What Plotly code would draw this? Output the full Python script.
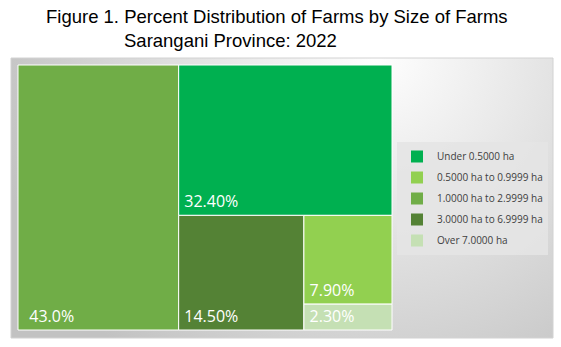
import base64
import plotly.graph_objects as go

W, H = 561, 347

# ---- data ----
categories = ["Under 0.5000 ha", "0.5000 ha to 0.9999 ha", "1.0000 ha to 2.9999 ha",
              "3.0000 ha to 6.9999 ha", "Over 7.0000 ha"]
percent = [32.4, 7.9, 43.0, 14.5, 2.3]
value_labels = ["\u200932.40%", "\u20097.90%", "\u00a0\u00a043.0%", "\u200914.50%", "\u20092.30%"]
colors = ["#00B050", "#92D050", "#70AD47", "#548235", "#C5E0B4"]
title_line1 = "Figure 1. Percent Distribution of Farms by Size of Farms"
title_line2 = "Sarangani Province: 2022"


def px(x):
    return x / W


def py(y):
    return 1 - y / H


fig = go.Figure()

fig.add_trace(go.Treemap(
    labels=categories,
    parents=[""] * len(categories),
    values=percent,
    text=value_labels,
    texttemplate="%{text}",
    textposition="bottom left",
    textfont=dict(family="Open Sans", size=16, color="white"),
    marker=dict(colors=colors, line=dict(color="white", width=1),
                pad=dict(t=0, l=0, r=0, b=0)),
    tiling=dict(packing="squarify", squarifyratio=1, pad=0),
    pathbar=dict(visible=False),
    sort=True,
    hoverinfo="skip",
    domain=dict(x=[px(18), px(392)], y=[py(330), py(65)]),
))

# legend entries
for i, (cat, col) in enumerate(zip(categories, colors)):
    fig.add_trace(go.Scatter(
        x=[None], y=[None], mode="markers", name=cat,
        legendgroup=f"g{i}",
        marker=dict(symbol="square", size=9, color=col),
        showlegend=True, hoverinfo="skip",
    ))

# background gradient
bw, bh = 542, 280
svg = (f'<svg xmlns="http://www.w3.org/2000/svg" width="{bw}" height="{bh}">'
       '<defs><radialGradient id="g" gradientUnits="userSpaceOnUse" cx="365" cy="-5" r="390">'
       '<stop offset="0" stop-color="#ffffff"/><stop offset="1" stop-color="#c2c2c2"/>'
       '</radialGradient></defs>'
       f'<rect width="{bw}" height="{bh}" fill="url(#g)"/></svg>')
src = "data:image/svg+xml;base64," + base64.b64encode(svg.encode()).decode()

fig.update_layout(
    width=W, height=H,
    margin=dict(l=0, r=0, t=0, b=0),
    paper_bgcolor="white", plot_bgcolor="rgba(0,0,0,0)",
    xaxis=dict(visible=False), yaxis=dict(visible=False),
    uniformtext=dict(minsize=16, mode="show"),
    images=[dict(source=src, xref="paper", yref="paper", x=px(11), y=py(58),
                 sizex=bw / W, sizey=bh / H, xanchor="left", yanchor="top",
                 sizing="stretch", layer="below")],
    shapes=[dict(type="rect", xref="paper", yref="paper", x0=px(11), x1=px(553),
                 y0=py(338), y1=py(58), line=dict(color="#d2d2d2", width=1), layer="below")],
    showlegend=True,
    legend=dict(x=px(397), y=py(142), xanchor="left", yanchor="top",
                bgcolor="rgba(228,228,228,0.9)", borderwidth=0,
                font=dict(family="Open Sans", size=10, color="#404040"),
                tracegroupgap=2, itemsizing="constant"),
    annotations=[
        dict(text=title_line1, xref="paper", yref="paper", x=px(44), y=py(17),
             xanchor="left", yanchor="middle", showarrow=False,
             font=dict(family="Liberation Sans", size=18.5, color="black")),
        dict(text=title_line2, xref="paper", yref="paper", x=px(122), y=py(40),
             xanchor="left", yanchor="middle", showarrow=False,
             font=dict(family="Liberation Sans", size=18.5, color="black")),
    ],
)

fig.write_html("out.html")
